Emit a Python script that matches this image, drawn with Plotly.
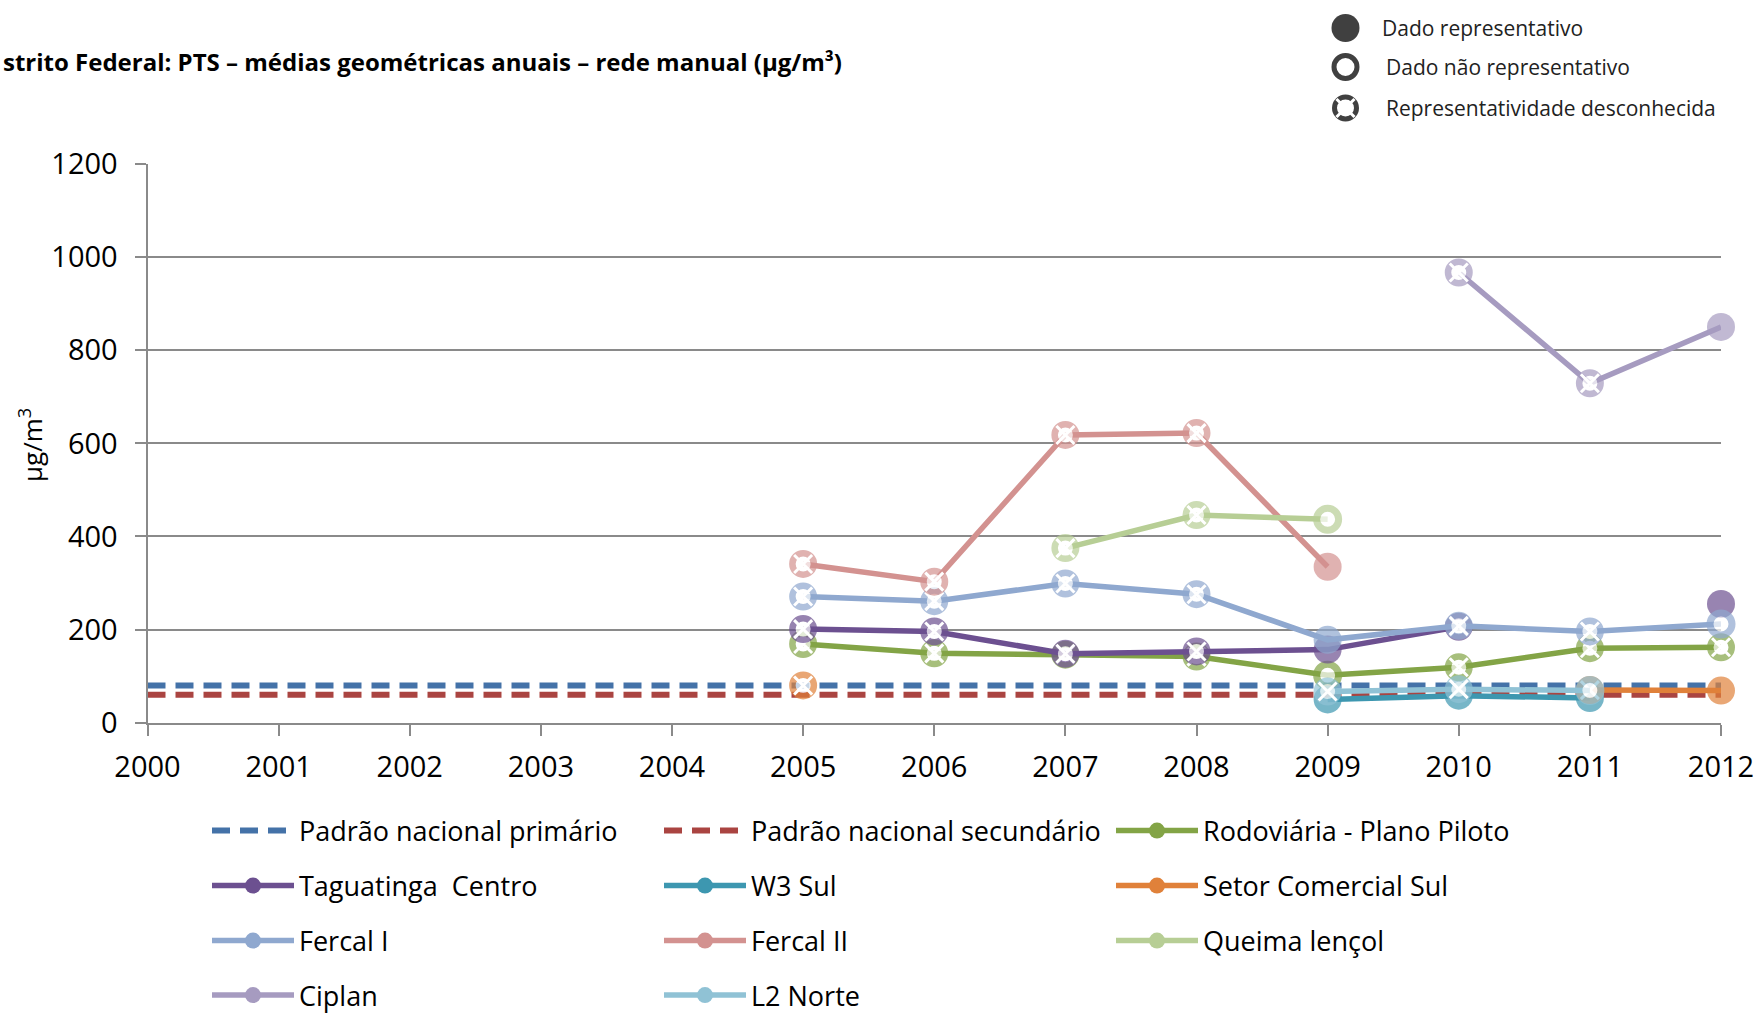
import plotly.graph_objects as go

# ---------------- data ----------------
anos_padrao = [2000, 2001, 2002, 2003, 2004, 2005, 2006, 2007, 2008, 2009, 2010, 2011, 2012]
padrao_primario = [80, 80, 80, 80, 80, 80, 80, 80, 80, 80, 80, 80, 80]
padrao_secundario = [60, 60, 60, 60, 60, 60, 60, 60, 60, 60, 60, 60, 60]

anos = [2005, 2006, 2007, 2008, 2009, 2010, 2011, 2012]

rodoviaria = [169, 149, 146, 142, 102, 119, 160, 162]
rodoviaria_rep = ["D", "D", "D", "D", "N", "D", "D", "D"]

taguatinga = [201, 196, 148, 153, 157, 206, None, 255]
taguatinga_rep = ["D", "D", "D", "D", "R", "D", None, "R"]

w3_sul = [None, None, None, None, 50, 58, 53, None]
w3_sul_rep = [None, None, None, None, "R", "R", "R", None]

setor_comercial_sul = [80, None, None, None, None, None, 70, 69]
setor_comercial_sul_rep = ["D", None, None, None, None, None, "D", "R"]

fercal_i = [271, 261, 299, 276, 178, 208, 196, 212]
fercal_i_rep = ["D", "D", "D", "D", "R", "D", "D", "N"]

fercal_ii = [341, 303, 618, 622, 335, None, None, None]
fercal_ii_rep = ["D", "D", "D", "D", "R", None, None, None]

queima_lencol = [None, None, 375, 446, 437, None, None, None]
queima_lencol_rep = [None, None, "D", "D", "N", None, None, None]

ciplan = [None, None, None, None, None, 967, 729, 850]
ciplan_rep = [None, None, None, None, None, "D", "D", "R"]

l2_norte = [None, None, None, None, 67, 72, 69, None]
l2_norte_rep = [None, None, None, None, "D", "D", "N", None]

x_ticks = [2000, 2001, 2002, 2003, 2004, 2005, 2006, 2007, 2008, 2009, 2010, 2011, 2012]
y_ticks = [0, 200, 400, 600, 800, 1000, 1200]

series = [
    ("Rodoviária - Plano Piloto", rodoviaria, rodoviaria_rep, "#83A446", "legend"),
    ("Taguatinga  Centro", taguatinga, taguatinga_rep, "#6C5090", "legend2"),
    ("W3 Sul", w3_sul, w3_sul_rep, "#3D97B0", "legend2"),
    ("Setor Comercial Sul", setor_comercial_sul, setor_comercial_sul_rep, "#E0813A", "legend2"),
    ("Fercal I", fercal_i, fercal_i_rep, "#8FA8CF", "legend3"),
    ("Fercal II", fercal_ii, fercal_ii_rep, "#D39290", "legend3"),
    ("Queima lençol", queima_lencol, queima_lencol_rep, "#B7CE95", "legend3"),
    ("Ciplan", ciplan, ciplan_rep, "#A69BC0", "legend4"),
    ("L2 Norte", l2_norte, l2_norte_rep, "#90C2D5", "legend4"),
]

key_labels = ["Dado representativo", "Dado não representativo", "Representatividade desconhecida"]
key_codes = ["R", "N", "D"]

# ---------------- geometry (figure pixels) ----------------
W, H = 1758, 1014
PX_L, PX_R = 147.5, 1721.0
PX_T, PX_B = 164.0, 722.7

FONT = "Open Sans, DejaVu Sans, sans-serif"
GRID = "#8A8A8A"

SIZE = {"R": 28, "N": 22, "D": 21.5}
LW = {"R": 0, "N": 7, "D": 6.5}

fig = go.Figure()

# standards (dashed lines)
fig.add_trace(go.Scatter(
    x=anos_padrao, y=padrao_primario, mode="lines", name="Padrão nacional primário",
    line=dict(color="#4472A8", width=6, dash="18px,10px"), legend="legend",
    hoverinfo="skip", cliponaxis=False))
fig.add_trace(go.Scatter(
    x=anos_padrao, y=padrao_secundario, mode="lines", name="Padrão nacional secundário",
    line=dict(color="#AA4441", width=6, dash="18px,10px"), legend="legend",
    hoverinfo="skip", cliponaxis=False))


def marker_arrays(reps, color):
    sizes, fills, lws = [], [], []
    for r in reps:
        r = r or "R"
        sizes.append(SIZE[r])
        fills.append(color if r == "R" else "white")
        lws.append(LW[r])
    return sizes, fills, lws


for name, vals, reps, color, leg in series:
    sizes, fills, lws = marker_arrays(reps, color)
    fig.add_trace(go.Scatter(
        x=anos, y=vals, mode="lines+markers", name=name, showlegend=False,
        connectgaps=False, cliponaxis=False,
        line=dict(color=color, width=5.5),
        marker=dict(symbol="circle", size=sizes, color=fills,
                    line=dict(color=color, width=lws)),
    ))
    # gaps that turn the ring into a dashed ring ("representatividade desconhecida")
    dx = [a for a, v, r in zip(anos, vals, reps) if v is not None and r == "D"]
    dy = [v for a, v, r in zip(anos, vals, reps) if v is not None and r == "D"]
    if dx:
        fig.add_trace(go.Scatter(
            x=dx, y=dy, mode="markers", showlegend=False, hoverinfo="skip",
            cliponaxis=False,
            marker=dict(symbol="x-thin", size=18, color="white",
                        line=dict(color="white", width=3)),
        ))
    # legend entry
    fig.add_trace(go.Scatter(
        x=[None], y=[None], mode="lines+markers", name=name, legend=leg,
        line=dict(color=color, width=5.5),
        marker=dict(symbol="circle", size=16, color=color),
    ))

# ---------------- representativeness key (top right) ----------------
KEY_COL = "#404040"
key_y = [28, 67, 108]
for code, yy in zip(key_codes, key_y):
    fig.add_trace(go.Scatter(
        x=[1345.5], y=[yy], mode="markers", xaxis="x2", yaxis="y2",
        showlegend=False, hoverinfo="skip", cliponaxis=False,
        marker=dict(symbol="circle", size={"R": 28, "N": 23, "D": 22}[code],
                    color=KEY_COL if code == "R" else "white",
                    line=dict(color=KEY_COL, width=0 if code == "R" else 5)),
    ))
    if code == "D":
        fig.add_trace(go.Scatter(
            x=[1345.5], y=[yy], mode="markers", xaxis="x2", yaxis="y2",
            showlegend=False, hoverinfo="skip", cliponaxis=False,
            marker=dict(symbol="x-thin", size=18, color="white",
                        line=dict(color="white", width=3)),
        ))

annotations = []
for lab, yy, xx in zip(key_labels, key_y, [1380, 1383.5, 1383.5]):
    annotations.append(dict(
        text=lab, x=xx / W, y=1 - yy / H, xref="paper", yref="paper",
        xanchor="left", yanchor="middle", showarrow=False,
        font=dict(family=FONT, size=21, color="#222222")))

# title (as visible in the source image, which starts mid-word at the left edge)
annotations.append(dict(
    text="<b>strito Federal: PTS – médias geométricas anuais – rede manual (µg/m³)</b>",
    x=1 / W, y=1 - 62 / H, xref="paper", yref="paper",
    xanchor="left", yanchor="middle", showarrow=False,
    font=dict(family=FONT, size=24, color="#000000")))

# y axis title
annotations.append(dict(
    text="µg/m<sup>3</sup>", x=31 / W, y=1 - 445 / H, xref="paper", yref="paper",
    xanchor="center", yanchor="middle", showarrow=False, textangle=-90,
    font=dict(family=FONT, size=26, color="#000000")))

leg_common = dict(
    orientation="h", xanchor="left", yanchor="middle",
    font=dict(family=FONT, size=27, color="#000000"),
    itemwidth=82, entrywidth=355, entrywidthmode="pixels",
    bgcolor="rgba(0,0,0,0)", borderwidth=0, traceorder="normal",
    itemclick=False, itemdoubleclick=False,
)
row_y = [831.0, 886.0, 941.0, 995.5]
LEG_X = 207.0 / W

fig.update_layout(
    template="none",
    width=W, height=H,
    margin=dict(l=0, r=0, t=0, b=0, autoexpand=False),
    paper_bgcolor="white", plot_bgcolor="white",
    showlegend=True,
    legend=dict(x=LEG_X, y=1 - row_y[0] / H, **leg_common),
    legend2=dict(x=LEG_X, y=1 - row_y[1] / H, **leg_common),
    legend3=dict(x=LEG_X, y=1 - row_y[2] / H, **leg_common),
    legend4=dict(x=LEG_X, y=1 - row_y[3] / H, **leg_common),
    xaxis=dict(
        domain=[PX_L / W, PX_R / W], range=[2000, 2012],
        tickvals=x_ticks, ticktext=[str(t) for t in x_ticks],
        showgrid=False, zeroline=False,
        showline=True, linecolor=GRID, linewidth=2,
        ticks="outside", ticklen=11, tickwidth=2, tickcolor=GRID,
        tickfont=dict(family=FONT, size=29, color="#000000"),
        ticklabelstandoff=6, fixedrange=True,
    ),
    yaxis=dict(
        domain=[1 - PX_B / H, 1 - PX_T / H], range=[0, 1200],
        tickvals=y_ticks,
        showgrid=True, gridcolor=GRID, gridwidth=2, zeroline=False,
        showline=True, linecolor=GRID, linewidth=2,
        ticks="outside", ticklen=11, tickwidth=2, tickcolor=GRID,
        tickfont=dict(family=FONT, size=29, color="#000000"),
        ticklabelstandoff=11, fixedrange=True,
    ),
    xaxis2=dict(domain=[1300 / W, 1400 / W], range=[1300, 1400], visible=False,
                anchor="y2", fixedrange=True),
    yaxis2=dict(domain=[1 - 140 / H, 1.0], range=[140, 0], visible=False,
                anchor="x2", fixedrange=True),
    annotations=annotations,
)

fig.write_html(
    "out.html",
    config={"displayModeBar": False, "staticPlot": False},
    post_script="document.body.style.margin='0';document.body.style.overflow='hidden';",
)
